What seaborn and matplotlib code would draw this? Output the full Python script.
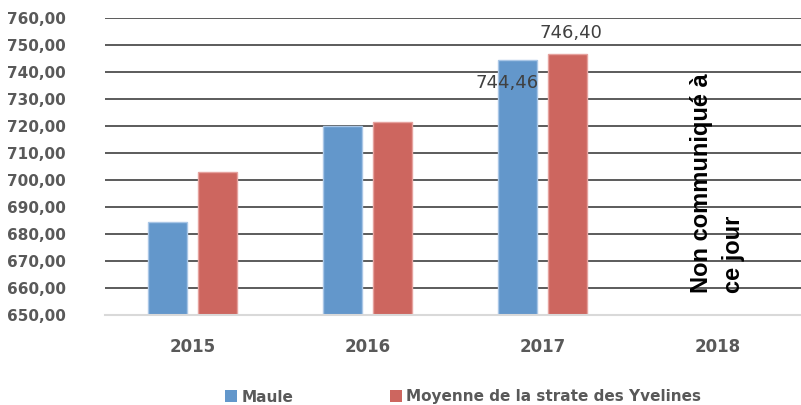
import numpy as np
import pandas as pd
import matplotlib
matplotlib.use("Agg")
import matplotlib.pyplot as plt
import seaborn as sns

# données
annees = ["2015", "2016", "2017", "2018"]
maule = [684.3, 720.0, 744.46, np.nan]
moyenne = [702.8, 721.5, 746.40, np.nan]
series = ["Maule", "Moyenne de la strate des Yvelines"]
yticks = [650, 660, 670, 680, 690, 700, 710, 720, 730, 740, 750, 760]
note_2018 = "Non communiqué à\nce jour"

couleurs = {"Maule": "#6397cb", "Moyenne de la strate des Yvelines": "#cd665f"}
bords = ["#a9c6e6", "#e6a29e"]

df = pd.DataFrame({
    "Année": annees * 2,
    "Série": [series[0]] * 4 + [series[1]] * 4,
    "Valeur": maule + moyenne,
})

sns.set_style("white")
plt.rcParams["font.family"] = ["DejaVu Sans"]

fig = plt.figure(figsize=(8.01, 4.05), dpi=100)
ax = fig.add_axes([105 / 801, 1 - 314.5 / 405, 700 / 801, (314.5 - 17.7) / 405])

sns.barplot(data=df, x="Année", y="Valeur", hue="Série", order=annees,
            hue_order=series, palette=couleurs, width=0.571, gap=0.22,
            saturation=1, ax=ax, legend=True, zorder=2)

# bords clairs des barres
for cont, bc in zip(ax.containers, bords):
    for p in cont:
        p.set_edgecolor(bc)
        p.set_linewidth(1.0)

ax.set_ylim(650, 760)
ax.set_xlim(-0.5, 3.5)
ax.set_yticks(yticks)
ax.set_yticklabels([f"{v:.2f}".replace(".", ",") for v in yticks])
ax.set_xlabel("")
ax.set_ylabel("")

ax.set_axisbelow(True)
ax.yaxis.grid(True, color="#3f3f3f", linewidth=1.2)
ax.xaxis.grid(False)
for s in ["left", "right", "top"]:
    ax.spines[s].set_visible(False)
ax.spines["bottom"].set_color("#d9d9d9")
ax.spines["bottom"].set_linewidth(1.5)
ax.spines["bottom"].set_zorder(3)

ax.tick_params(axis="y", length=0, pad=28, labelsize=11, labelcolor="#595959")
ax.tick_params(axis="x", length=0, pad=17, labelsize=12, labelcolor="#595959")
for lab in ax.get_yticklabels() + ax.get_xticklabels():
    lab.set_fontweight("bold")

# étiquettes de valeurs 2017
ax.text(2 - 0.2, maule[2] - 8.8, f"{maule[2]:.2f}".replace(".", ","),
        ha="center", va="center", fontsize=13, color="#404040", zorder=4)
ax.text(2 + 0.16, moyenne[2] + 7.9, f"{moyenne[2]:.2f}".replace(".", ","),
        ha="center", va="center", fontsize=13, color="#404040", zorder=4)

# mention 2018
ax.text(3, 658, note_2018, rotation=90, ha="center", va="bottom",
        multialignment="left", fontsize=17, fontweight="bold",
        family=["Liberation Sans", "DejaVu Sans"], color="black",
        linespacing=1.5, zorder=4)

# légende en bas
handles, labels = ax.get_legend_handles_labels()
ax.get_legend().remove()
leg = fig.legend(handles, labels, loc="center left",
                 bbox_to_anchor=(225 / 801, 1 - 397 / 405), frameon=False,
                 ncol=2, fontsize=11, handlelength=0.78, handleheight=0.78,
                 handletextpad=0.3, columnspacing=6.3, borderpad=0,
                 borderaxespad=0)
for t in leg.get_texts():
    t.set_color("#595959")
    t.set_fontweight("bold")
for h in leg.legend_handles:
    h.set_edgecolor("none")

fig.savefig("out.png", dpi=100)
